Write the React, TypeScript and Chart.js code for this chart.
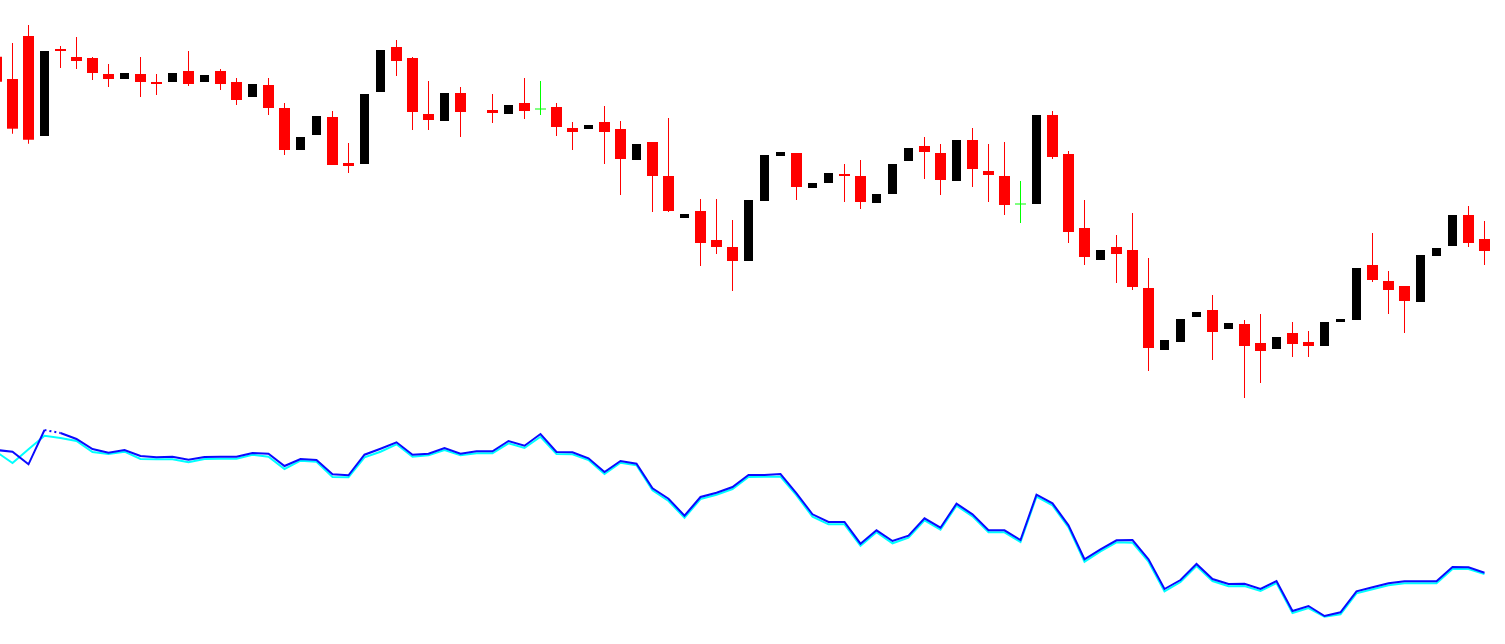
import { useEffect, useRef } from "react";
import { Chart, registerables } from "chart.js";

Chart.register(...registerables);

// Candle OHLC values (index 0 is the partly visible candle at the left edge; index 30 has no bar)
const opens = [
  443.3, 421, 464, 364, 451, 443, 442, 426, 421, 426,
  418, 418, 429, 418, 429, 418, 403, 415, 392, 350,
  365, 383, 337, 336, 408, 453, 442, 386, 379, 407,
  null, 390, 386, 397, 391.5, 393, 372, 371, 378, 371,
  340, 358, 324, 282, 289, 260, 253, 239, 299, 344,
  347, 312, 317, 326, 324, 297, 306, 339, 354, 347,
  319, 360, 329, 324, 296.5, 296, 385, 346, 272, 240,
  253, 250, 212, 150, 158, 183, 190, 171, 176, 157,
  151, 167, 158, 154, 178, 180, 235, 219, 214, 198,
  244, 254, 285, 261,
];
const closes = [
  418.3, 371.3, 360.3, 449, 449, 439, 427, 421, 427, 418,
  416, 427, 416, 425, 416, 400, 416, 392, 350, 363,
  384, 335, 334, 406, 450, 439, 388, 380, 407, 388,
  null, 387, 395, 389, 391.5, 373, 368, 375, 368, 341,
  356, 324, 289, 286, 257, 253, 239, 300, 345, 348,
  313, 317, 327, 324, 298, 306, 336, 352, 348, 320,
  360, 331, 325, 295, 296.5, 385, 343, 268, 243, 250,
  246, 213, 152, 160, 181, 188, 168, 177, 154, 149,
  163, 156, 154, 178, 181, 232, 220, 210, 199, 245,
  252, 285, 257, 249,
];
const highs = [
  443.3, 457, 475, 449, 454, 463, 443, 436, 427, 443,
  426, 427, 449, 425, 431, 422, 416, 422, 397, 363,
  384, 389, 357, 406, 450, 460, 443, 419, 407, 413,
  null, 406, 395, 422, 419, 397, 378, 375, 394, 379,
  356, 358, 382, 286, 301, 301, 280, 300, 345, 348,
  347, 317, 327, 336, 340, 306, 336, 352, 363, 356,
  360, 372, 356, 358, 319, 385, 389, 349, 300, 250,
  265, 287, 242, 160, 181, 188, 205, 177, 180, 186,
  163, 178, 169, 178, 181, 232, 267, 229, 214, 245,
  252, 285, 294, 279,
];
const lows = [
  418.3, 366.3, 356.3, 364, 432, 431, 420, 413, 421, 403,
  405, 418, 414, 418, 410, 395, 403, 385, 345, 350,
  365, 335, 327, 336, 408, 424, 370, 370, 379, 363,
  null, 377, 386, 381, 385, 364, 350, 371, 336, 305,
  340, 288, 288, 282, 234, 246, 209, 239, 299, 344,
  300, 312, 317, 298, 291, 297, 306, 339, 321, 305,
  319, 313, 298, 285, 277, 296, 341, 257, 235, 240,
  217, 210, 129, 150, 158, 183, 140, 171, 102, 117,
  151, 143, 143, 154, 178, 180, 218, 186, 167, 198,
  244, 254, 253, 235,
];

// Indicator lines (lower panel)
const fastLine = [
  200, 198.3, 185.7, 220, 217, 211, 201, 197.3, 200, 194,
  192.7, 193.3, 190.3, 193, 193.3, 193.3, 197, 196.3, 184, 191,
  190, 175.7, 174.7, 195.3, 201.3, 207.7, 195.3, 196.3, 202, 196.3,
  198.7, 198.7, 209, 204.3, 216, 198, 197.7, 191.7, 178, 189,
  186.3, 161.7, 151.3, 134.3, 153, 157.3, 163, 175, 175, 176,
  156.7, 135.7, 128, 128, 106.3, 119.7, 109, 114.3, 131.7, 122.3,
  146.3, 135.7, 119.7, 119.7, 110, 155.3, 146.7, 124.7, 90.7, 100.7,
  109.7, 110, 90.7, 61, 70, 86, 71, 66, 66.3, 61,
  69, 39, 44, 34, 37.7, 58.7, 62.7, 66.7, 68.7, 68.7,
  68.7, 83, 82.7, 77.3,
];
const slowLine = [
  198, 187, 200.7, 214.3, 212, 209, 198, 196, 198.3, 191,
  190.7, 190.7, 187.7, 191, 191.3, 191.3, 195.3, 193.3, 181, 189.3,
  188.3, 173, 172.7, 192.7, 198.3, 205.7, 193.3, 194.7, 200, 194.7,
  196.7, 196.7, 206.7, 202, 213.3, 196, 195.7, 190, 176, 187.3,
  184.7, 159.7, 149, 132.3, 151, 155.3, 161, 173, 173.3, 173.3,
  154.7, 133.3, 125.7, 125.7, 104.3, 117.7, 106.7, 112.3, 129.7, 120.3,
  144.3, 133.7, 117.7, 117.7, 108, 153.3, 144.7, 122.7, 88.3, 98.7,
  107.7, 107.3, 88.3, 58.7, 68, 84, 69, 63.7, 64, 59,
  67, 37, 42, 33.3, 35.7, 56.7, 60.7, 64.7, 66.7, 66.7,
  66.7, 81, 81, 76,
];

const BEAR = "#FF0000";
const BULL = "#000000";
const DOJI = "#00FF00";

type Kind = "bull" | "bear" | "doji";

function kindOf(i: number): Kind | null {
  const o = opens[i];
  const c = closes[i];
  if (o === null || c === null) return null;
  if (o === c) return "doji";
  return c > o ? "bull" : "bear";
}

export default function App() {
  const ref = useRef<HTMLCanvasElement | null>(null);

  useEffect(() => {
    if (!ref.current) return;
    const idx = opens.map((_, i) => i);
    const valid = idx.filter((i) => kindOf(i) !== null);

    const wickData = valid.map((i) => ({ x: i, y: [lows[i] as number, highs[i] as number] }));
    const wickColors = valid.map((i) => {
      const k = kindOf(i);
      return k === "bear" ? BEAR : k === "doji" ? DOJI : "#FFFFFF";
    });
    const bodyOf = (k: Kind) =>
      valid.filter((i) => kindOf(i) === k).map((i) => ({ x: i, y: [opens[i] as number, closes[i] as number] }));

    const common = { grouped: false, inflateAmount: 0, borderWidth: 0, yAxisID: "y", xAxisID: "x" };

    const chart = new Chart(ref.current, {
      type: "bar",
      data: {
        datasets: [
          { ...common, label: "wicks", data: wickData as any, backgroundColor: wickColors, barThickness: 1, order: 6 },
          { ...common, label: "bull", data: bodyOf("bull") as any, backgroundColor: BULL, barThickness: 9, order: 5 },
          { ...common, label: "bear", data: bodyOf("bear") as any, backgroundColor: BEAR, barThickness: 11, order: 4 },
          { ...common, label: "doji", data: bodyOf("doji") as any, backgroundColor: DOJI, barThickness: 11, minBarLength: 1, order: 3 },
          {
            type: "line",
            label: "slow",
            data: slowLine.map((v, i) => ({ x: i, y: v })),
            borderColor: "#00FFFF",
            borderWidth: 2,
            pointRadius: 0,
            tension: 0,
            yAxisID: "y2",
            xAxisID: "x",
            order: 2,
          } as any,
          {
            type: "line",
            label: "fast",
            data: fastLine.map((v, i) => ({ x: i, y: v })),
            borderColor: "#0A0AFF",
            borderWidth: 2,
            pointRadius: 0,
            tension: 0,
            yAxisID: "y2",
            xAxisID: "x",
            order: 1,
            segment: {
              borderDash: (ctx: any) => (ctx.p0DataIndex === 3 ? [2, 3] : undefined),
            },
          } as any,
        ],
      },
      options: {
        responsive: false,
        animation: false,
        layout: { padding: 0 },
        plugins: { legend: { display: false }, tooltip: { enabled: false } },
        scales: {
          x: { type: "linear", display: false, offset: false, min: 0.21875, max: 94.28125 },
          y: { type: "linear", display: false, min: -144, max: 500 },
          y2: { type: "linear", display: false, min: 6, max: 650 },
        },
      },
    });
    return () => chart.destroy();
  }, []);

  return (
    <div style={{ position: "absolute", left: 0, top: 0, width: 1505, height: 644, background: "#FFFFFF" }}>
      <canvas ref={ref} width={1505} height={644} style={{ display: "block" }} />
    </div>
  );
}
